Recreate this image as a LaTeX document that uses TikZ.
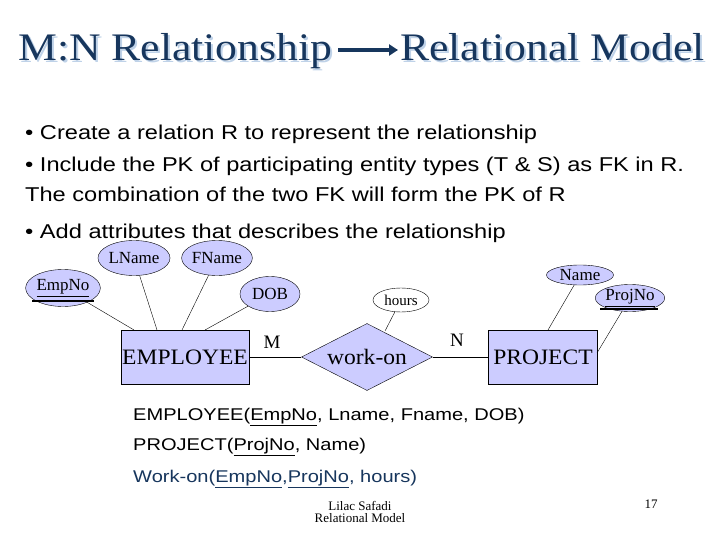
\documentclass[tikz,border=0pt]{standalone}
\usepackage{fontspec}
\setmainfont{Liberation Serif}
\setsansfont{Liberation Sans}
\newfontfamily\wsans[FakeStretch=1.18]{Liberation Sans}
\newfontfamily\wserif[FakeStretch=1.12]{Liberation Serif}
\newfontfamily\eserif[FakeStretch=1.07]{Liberation Serif}
\usetikzlibrary{shapes.geometric,arrows.meta}
\definecolor{navy}{HTML}{17365D}
\definecolor{lav}{HTML}{CCCCFF}
\definecolor{shad}{HTML}{BFD2E8}
\begin{document}
\begin{tikzpicture}[x=1pt,y=-1pt,
  attr/.style={ellipse,draw,fill=lav,inner sep=0pt,font=\fontsize{17}{17}\selectfont},
  ent/.style={rectangle,draw,fill=lav,inner sep=0pt,font=\eserif\fontsize{22}{22}\selectfont},
  rel/.style={diamond,draw,fill=lav,inner sep=0pt,aspect=2,font=\eserif\fontsize{22}{22}\selectfont},
  bul/.style={anchor=base west,font=\wsans\fontsize{20}{20}\selectfont,inner sep=0pt},
  rm/.style={anchor=base west,font=\wsans\fontsize{17}{17}\selectfont,inner sep=0pt},
  tit/.style={anchor=base west,inner sep=0pt,font=\wserif\fontsize{39}{39}\selectfont}]
\useasboundingbox (0,0) rectangle (720,540);
\fill[white] (0,0) rectangle (720,540);
% title
\node[tit,text=shad] at (20,63) {M:N Relationship};
\node[tit,text=navy] (t1) at (18,61) {M:N Relationship};
\node[tit,text=shad] at (402,63) {Relational Model};
\node[tit,text=navy] (t2) at (400,61) {Relational Model};
\draw[navy,line width=4pt,-{Triangle[length=9pt,width=11pt]}] (338,50) -- (398,50);
% bullets
\node[bul] (b1) at (25,140) {• Create a relation R to represent the relationship};
\node[bul] (b2) at (25,172) {• Include the PK of participating entity types (T \& S) as FK in R.};
\node[bul] (b3) at (25,202) {The combination of the two FK will form the PK of R};
\node[bul] (b4) at (25,238) {• Add attributes that describes the relationship};
% ER
\node[attr,minimum width=67,minimum height=37] (emp) at (63,288) {\underline{EmpNo}};
\draw[line width=2.5pt] (32,301) -- (94,301);
\node[attr,minimum width=67,minimum height=35] (ln) at (134,258) {LName};
\node[attr,minimum width=60,minimum height=35] (fn) at (217,258) {FName};
\node[attr,minimum width=60,minimum height=35] (dob) at (270,294) {DOB};
\node[attr,fill=white,minimum width=56,minimum height=24,font=\fontsize{15}{15}\selectfont] (hr) at (401,300) {hours};
\node[attr,minimum width=67,minimum height=20] (nm) at (580,275) {Name};
\node[attr,minimum width=67,minimum height=27] (pn) at (630,298) {\underline{ProjNo}};
\draw[line width=2.5pt] (600,309) -- (658,309);
\node[ent,minimum width=128,minimum height=54] (e) at (185,357) {EMPLOYEE};
\node[rel,minimum width=131,minimum height=67] (w) at (367,357) {work-on};
\node[ent,minimum width=109,minimum height=54] (p) at (543,357) {PROJECT};
\draw (emp) -- (134,330);
\draw (ln) -- (157,330);
\draw (fn) -- (182,330);
\draw (dob) -- (205,330);
\draw (hr) -- (385,331);
\draw (nm) -- (548,330);
\draw (pn) -- (597,353);
\draw (e) -- (w) -- (p);
\node[font=\fontsize{19}{19}\selectfont] (m) at (272,342) {M};
\node[font=\fontsize{19}{19}\selectfont] (n) at (457,340) {N};
% relations
\node[rm] (r1) at (133,420) {EMPLOYEE(\underline{EmpNo}, Lname, Fname, DOB)};
\node[rm] (r2) at (133,450) {PROJECT(\underline{ProjNo}, Name)};
\node[rm,text=navy] (r3) at (133,482) {Work-on(\underline{EmpNo},\underline{ProjNo}, hours)};
% footer
\node[font=\fontsize{13}{13}\selectfont,align=center] (f) at (360,512) {Lilac Safadi\\[-1pt]Relational Model};
\node[font=\fontsize{13}{13}\selectfont] (pg) at (651,504) {17};
\end{tikzpicture}
\end{document}
